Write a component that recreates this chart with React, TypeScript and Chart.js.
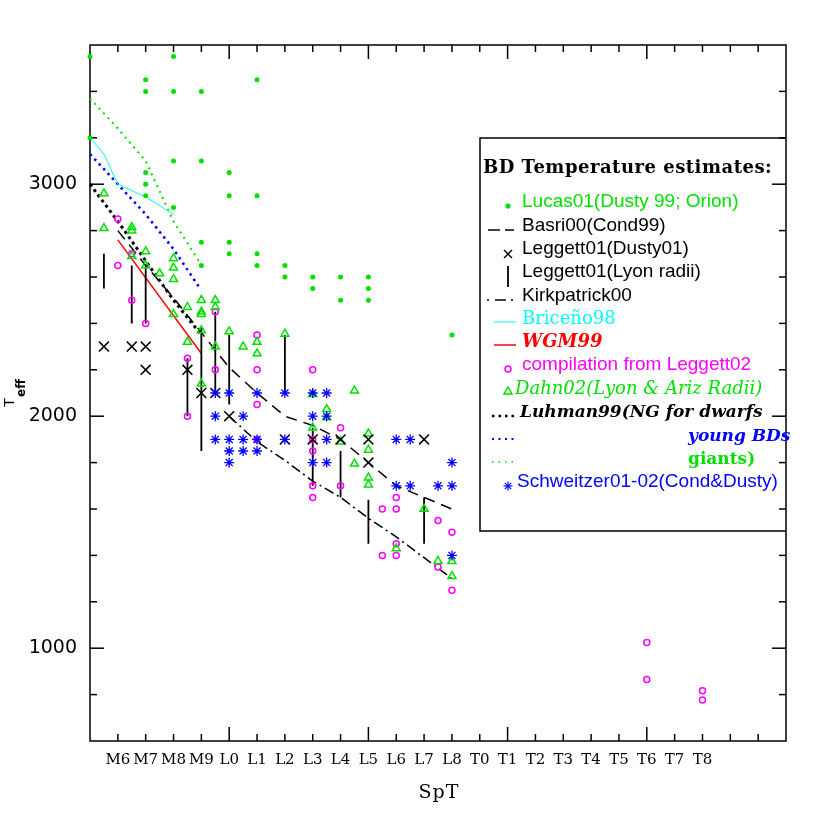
import { useEffect, useRef } from 'react';
import { Chart, registerables } from 'chart.js';
Chart.register(...registerables);

// Spectral type index: M5 = 0, M6 = 1 ... L0 = 5 ... L8 = 13, T0 = 14 ... T8 = 22
const spectralTypes = ['M6','M7','M8','M9','L0','L1','L2','L3','L4','L5','L6','L7','L8','T0','T1','T2','T3','T4','T5','T6','T7','T8'];
const yLabelValues = [1000, 2000, 3000];

const lucas01: number[][] = [[0,3550],[0,3200],[2,3450],[2,3400],[2,3050],[2,3000],[2,2950],[3,3550],[3,3400],[3,3100],[3,2900],[4,3400],[4,3100],[4,2750],[4,2650],[5,3050],[5,2950],[5,2750],[5,2700],[6,3450],[6,2950],[6,2700],[6,2650],[7,2650],[7,2600],[8,2600],[8,2550],[9,2600],[9,2500],[10,2600],[10,2550],[10,2500],[13,2350]];
const basri00: number[][] = [[1,2800],[2,2650],[3,2510],[4,2360],[5,2210],[6,2100],[7,2000],[8,1960],[9,1900],[10,1800],[11,1700],[12,1650],[13,1600]];
const kirkpatrick00: number[][] = [[5,2000],[6,1890],[7,1810],[8,1720],[9,1650],[10,1560],[11,1480],[12,1390],[13,1300]];
const leggett01Dusty: number[][] = [[0.5,2300],[1.5,2300],[2,2300],[2,2200],[3.5,2200],[4,2100],[4.5,2100],[5,2000],[7,1900],[8,1900],[9,1900],[10,1900],[10,1800],[12,1900]];
const leggett01Lyon: number[][] = [[0.5,2550,2700],[1.5,2400,2650],[2,2400,2650],[3.5,2000,2250],[4,1850,2380],[4.5,2100,2450],[5,2050,2350],[7,2100,2350],[8,1700,1950],[9,1650,1850],[10,1450,1640],[12,1450,1650]];
const briceno98: number[][] = [[0,3200],[0.5,3130],[1,3000],[2,2945],[3,2870]];
const wgm99: number[][] = [[1,2760],[4,2270]];
const leggett02: number[][] = [[1,2850],[1,2650],[1.5,2700],[1.5,2500],[2,2400],[3.5,2250],[3.5,2000],[4.5,2450],[4.5,2200],[6,2350],[6,2200],[6,2050],[6,1900],[8,2200],[8,1900],[8,1850],[8,1700],[8,1650],[9,1950],[9,1700],[10.5,1600],[10.5,1400],[11,1650],[11,1600],[11,1450],[11,1400],[12.5,1550],[12.5,1350],[13,1500],[13,1250],[20,1025],[20,865],[22,817],[22,777]];
const dahn02: number[][] = [[0.5,2960],[0.5,2810],[1.5,2815],[1.5,2800],[1.5,2690],[2,2710],[2,2650],[2.5,2615],[3,2680],[3,2640],[3,2590],[3,2440],[3.5,2470],[3.5,2320],[4,2500],[4,2450],[4,2440],[4,2370],[4,2140],[4.5,2500],[4.5,2470],[4.5,2300],[5,2365],[5.5,2300],[6,2320],[6,2270],[7,2355],[8,2095],[8,1950],[8.5,2030],[8.5,1995],[9,1890],[9.5,2110],[9.5,1795],[10,1925],[10,1855],[10,1735],[10,1705],[11,1430],[12,1600],[12.5,1375],[13,1375],[13,1310]];
const luhmanDwarfs: number[][] = [[0,3000],[1,2840],[2,2670],[3,2500],[4,2350]];
const luhmanYoung: number[][] = [[0,3130],[1,3000],[2,2870],[3,2720],[3.9,2560]];
const luhmanGiants: number[][] = [[0,3370],[1,3240],[2,3100],[3,2840],[3.9,2670]];
const schweitzer: number[][] = [[4.5,2100],[5,2100],[6,2100],[7,2100],[4.5,2000],[5.5,2000],[4.5,1900],[5,1900],[5.5,1900],[6,1900],[7,1900],[5,1850],[5.5,1850],[6,1850],[5,1800],[8,2100],[8.5,2100],[8,2000],[8.5,2000],[8.5,1900],[8,1800],[8.5,1800],[11,1900],[11.5,1900],[13,1800],[11,1700],[11.5,1700],[12.5,1700],[13,1700],[13,1400]];

const GREEN = '#00e000';
const MAGENTA = '#ff00ff';
const BLUE = '#0000ff';
const CYAN = '#00ffff';
const RED = '#ff0000';

const pts = (a: number[][]) => a.map(([x, y]) => ({ x, y }));
const bars = (a: number[][]) => {
  const out: any[] = [];
  a.forEach(([x, lo, hi]) => { out.push({ x, y: lo }, { x, y: hi }, { x, y: null }); });
  return out;
};

const framePlugin = {
  id: 'frame',
  beforeDatasetsDraw(chart: any) {
    const { ctx, chartArea: a, scales } = chart;
    const x = scales.x, y = scales.y;
    ctx.save();
    ctx.strokeStyle = '#000';
    ctx.lineWidth = 1.5;
    const line = (x1: number, y1: number, x2: number, y2: number) => {
      ctx.beginPath(); ctx.moveTo(x1, y1); ctx.lineTo(x2, y2); ctx.stroke();
    };
    for (let v = 1; v < 25; v++) {
      const px = x.getPixelForValue(v);
      const len = v % 5 === 0 ? 14 : 7;
      line(px, a.bottom, px, a.bottom - len);
      line(px, a.top, px, a.top + len);
    }
    for (let v = 800; v < 3600; v += 200) {
      const py = y.getPixelForValue(v);
      const len = v % 1000 === 0 ? 14 : 7;
      line(a.left, py, a.left + len, py);
      line(a.right, py, a.right - len, py);
    }
    ctx.strokeRect(a.left, a.top, a.right - a.left, a.bottom - a.top);
    ctx.restore();
  },
  afterDraw(chart: any) {
    const { ctx, chartArea: a } = chart;
    ctx.save();
    // axis titles
    ctx.fillStyle = '#000';
    ctx.font = '19px "DejaVu Serif"';
    ctx.textAlign = 'center';
    ctx.textBaseline = 'middle';
    (ctx as any).letterSpacing = '1px';
    ctx.fillText('SpT', (a.left + a.right) / 2 + 1, 793);
    (ctx as any).letterSpacing = '0px';
    ctx.save();
    ctx.translate(14, 407);
    ctx.rotate(-Math.PI / 2);
    ctx.textAlign = 'left';
    ctx.textBaseline = 'alphabetic';
    ctx.font = '15px "Liberation Sans"';
    ctx.fillText('T', 0, 0);
    ctx.font = 'bold 12px "DejaVu Sans"';
    ctx.fillText('eff', 10, 11);
    ctx.restore();

    // legend box
    const L = 480, T = 138, R = a.right, B = 531;
    ctx.strokeStyle = '#000';
    ctx.lineWidth = 1.5;
    ctx.beginPath();
    ctx.moveTo(R, T); ctx.lineTo(L, T); ctx.lineTo(L, B); ctx.lineTo(R, B);
    ctx.stroke();

    ctx.textAlign = 'left';
    ctx.textBaseline = 'alphabetic';
    const text = (s: string, x: number, y: number, color: string, font: string, ls = '0px') => {
      ctx.fillStyle = color; ctx.font = font; (ctx as any).letterSpacing = ls; ctx.fillText(s, x, y);
      (ctx as any).letterSpacing = '0px';
    };
    const seg = (x1: number, y1: number, x2: number, y2: number, color: string, w: number, dash: number[] = []) => {
      ctx.strokeStyle = color; ctx.lineWidth = w; ctx.setLineDash(dash);
      ctx.beginPath(); ctx.moveTo(x1, y1); ctx.lineTo(x2, y2); ctx.stroke();
      ctx.setLineDash([]);
    };
    const SANS = '19px "Liberation Sans"';
    text('BD Temperature estimates:', 483, 173, '#000', 'bold 18px "DejaVu Serif"', '0.5px');

    // Lucas
    ctx.fillStyle = GREEN; ctx.beginPath(); ctx.arc(508, 206, 2.6, 0, Math.PI * 2); ctx.fill();
    text('Lucas01(Dusty 99; Orion)', 522, 207, GREEN, SANS);
    // Basri
    seg(488, 230, 500, 230, '#000', 1.5); seg(505, 230, 514, 230, '#000', 1.5);
    text('Basri00(Cond99)', 522, 230.5, '#000', SANS);
    // Leggett dusty x
    seg(504, 250, 512, 258, '#000', 1.5); seg(512, 250, 504, 258, '#000', 1.5);
    text('Leggett01(Dusty01)', 522, 254, '#000', SANS);
    // Leggett lyon |
    seg(508, 266, 508, 287, '#000', 1.8);
    text('Leggett01(Lyon radii)', 522, 277, '#000', SANS);
    // Kirkpatrick .-.
    seg(487, 300, 489, 300, '#000', 1.5); seg(495, 300, 506, 300, '#000', 1.5); seg(511, 300, 513, 300, '#000', 1.5);
    text('Kirkpatrick00', 522, 300.5, '#000', SANS);
    // Briceno
    seg(494, 322, 516, 322, CYAN, 1);
    text('Brice\u00f1o98', 522, 324, CYAN, '18px "DejaVu Serif"');
    // WGM99
    seg(494, 345, 516, 345, RED, 1.5);
    text('WGM99', 522, 347, RED, 'bold italic 18px "DejaVu Serif"');
    // compilation
    ctx.strokeStyle = MAGENTA; ctx.lineWidth = 1.5; ctx.beginPath(); ctx.arc(508, 369, 3, 0, Math.PI * 2); ctx.stroke();
    text('compilation from Leggett02', 522, 370, MAGENTA, SANS);
    // Dahn triangle
    ctx.strokeStyle = GREEN; ctx.lineWidth = 1.5; ctx.beginPath();
    ctx.moveTo(508, 387); ctx.lineTo(512, 394); ctx.lineTo(504, 394); ctx.closePath(); ctx.stroke();
    text('Dahn02(Lyon & Ariz Radii)', 515, 394, GREEN, 'italic 18px "DejaVu Serif"');
    // Luhman dotted
    seg(492, 416, 516, 416, '#000', 2.5, [2.5, 4]);
    text('Luhman99(NG for dwarfs', 520, 417, '#000', 'bold italic 17px "DejaVu Serif"');
    seg(492, 439, 516, 439, BLUE, 2, [2, 4.5]);
    text('young BDs', 688, 440.5, BLUE, 'bold italic 17px "DejaVu Serif"');
    seg(492, 462, 516, 462, GREEN, 1.5, [1.5, 5]);
    text('giants)', 688, 464, GREEN, 'bold 17px "DejaVu Serif"');
    // Schweitzer asterisk
    for (let k = 0; k < 4; k++) {
      const ang = k * Math.PI / 4;
      seg(508 - 4.5 * Math.cos(ang), 486 - 4.5 * Math.sin(ang), 508 + 4.5 * Math.cos(ang), 486 + 4.5 * Math.sin(ang), BLUE, 1.2);
    }
    text('Schweitzer01-02(Cond&Dusty)', 517, 487, BLUE, SANS);
    ctx.restore();
  },
};

export default function App() {
  const ref = useRef<HTMLCanvasElement | null>(null);
  useEffect(() => {
    if (!ref.current) return;
    const lineDs = (data: number[][], color: string, width: number, dash: number[] = []) => ({
      data: pts(data), showLine: true, borderColor: color, borderWidth: width, borderDash: dash,
      pointRadius: 0, fill: false, tension: 0, clip: false as any,
    });
    const chart = new Chart(ref.current, {
      type: 'scatter',
      data: {
        datasets: [
          { data: pts(schweitzer), pointStyle: 'star', pointRadius: 5, borderColor: BLUE, borderWidth: 1.3, backgroundColor: BLUE },
          { data: pts(leggett01Dusty), pointStyle: 'crossRot', pointRadius: 7, borderColor: '#000', borderWidth: 1.5, backgroundColor: '#000' },
          { data: pts(dahn02), pointStyle: 'triangle', pointRadius: 4.6, borderColor: GREEN, borderWidth: 1.5, backgroundColor: 'rgba(0,0,0,0)' },
          { data: pts(leggett02), pointStyle: 'circle', pointRadius: 3, borderColor: MAGENTA, borderWidth: 1.5, backgroundColor: 'rgba(0,0,0,0)' },
          { data: pts(lucas01), pointStyle: 'circle', pointRadius: 2.5, borderWidth: 0, backgroundColor: GREEN, clip: false as any },
          { data: bars(leggett01Lyon), showLine: true, borderColor: '#000', borderWidth: 1.8, pointRadius: 0, spanGaps: false },
          lineDs(basri00, '#000', 1.5, [11, 7]),
          lineDs(kirkpatrick00, '#000', 1.5, [10, 4, 2, 4]),
          lineDs(briceno98, CYAN, 1),
          lineDs(wgm99, RED, 1.5),
          lineDs(luhmanDwarfs, '#000', 3, [3, 3.5]),
          lineDs(luhmanYoung, BLUE, 2.5, [2.5, 4]),
          lineDs(luhmanGiants, GREEN, 2, [2, 4.5]),
        ] as any,
      },
      options: {
        animation: false,
        responsive: false,
        maintainAspectRatio: false,
        devicePixelRatio: 1,
        layout: { padding: { top: 45, right: 44, bottom: 0, left: 0 } },
        plugins: { legend: { display: false }, tooltip: { enabled: false } },
        scales: {
          x: {
            type: 'linear', min: 0, max: 25,
            afterFit: (s: any) => { s.height = 89; },
            grid: { display: false, drawTicks: false }, border: { display: false },
            ticks: {
              stepSize: 1, autoSkip: false, maxRotation: 0, minRotation: 0, padding: 10, color: '#000',
              font: { family: 'DejaVu Serif', size: 15 },
              callback: (v: any) => spectralTypes[Number(v) - 1] ?? '',
            },
          },
          y: {
            type: 'linear', min: 600, max: 3600,
            afterFit: (s: any) => { s.width = 90; },
            grid: { display: false, drawTicks: false }, border: { display: false },
            ticks: {
              stepSize: 200, autoSkip: false, padding: 13, color: '#000',
              font: { family: 'DejaVu Sans', size: 19 },
              callback: (v: any) => (yLabelValues.includes(Number(v)) ? String(v) : ''),
            },
          },
        },
      } as any,
      plugins: [framePlugin],
    });
    return () => chart.destroy();
  }, []);
  return (
    <canvas ref={ref} width={830} height={830}
      style={{ position: 'absolute', left: 0, top: 0, width: 830, height: 830, display: 'block' }} />
  );
}
